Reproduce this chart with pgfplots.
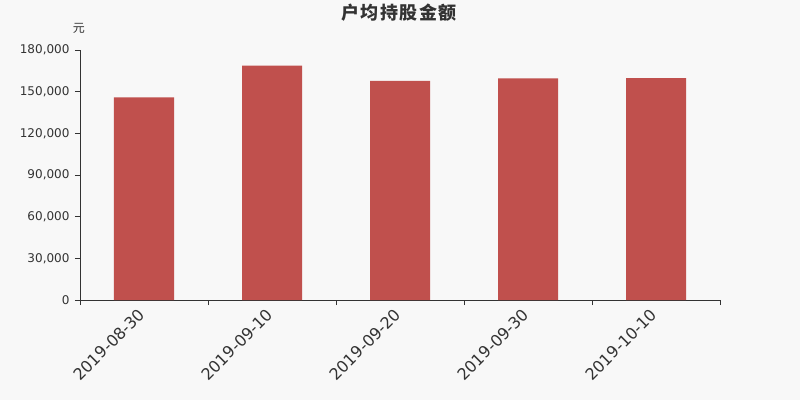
\documentclass[border=0pt]{standalone}
\usepackage{pgfplots}
\pgfplotsset{compat=1.18}
\usetikzlibrary{calc,backgrounds}
\usepackage{fontspec}
\setmainfont{DejaVu Sans}
\newfontfamily\cjk{Noto Sans CJK SC}
\newfontfamily\cjktitle[LetterSpace=8]{Noto Sans CJK SC}
\definecolor{barColor}{RGB}{192,80,77}
\definecolor{bgColor}{RGB}{248,248,248}
\definecolor{txtColor}{RGB}{51,51,51}

\begin{document}
\begin{tikzpicture}[x=1bp,y=1bp]
    \begin{axis}[
        scale only axis,
        width=640bp,
        height=250bp,
        xmin=-0.5, xmax=4.5,
        ymin=0, ymax=180000,
        axis lines*=left,
        axis line style={txtColor, line width=0.8pt, -},
        xtick={0,1,2,3,4},
        xticklabels={2019-08-30,2019-09-10,2019-09-20,2019-09-30,2019-10-10},
        minor xtick={-0.5,0.5,1.5,2.5,3.5,4.5},
        ytick={0,30000,60000,90000,120000,150000,180000},
        scaled y ticks=false,
        /pgf/number format/fixed,
        /pgf/number format/1000 sep={,},
        /pgf/number format/assume math mode=true,
        tick align=outside,
        major tick length=5bp,
        minor tick length=5bp,
        x tick style={draw=none},
        minor x tick style={draw=txtColor, line width=0.8pt},
        y tick style={draw=txtColor, line width=0.8pt},
        xticklabel style={font=\fontsize{16bp}{18bp}\selectfont, text=txtColor,
            rotate=45, anchor=north east, inner sep=0pt, xshift=-6bp, yshift=3bp},
        yticklabel style={font=\fontsize{12bp}{14bp}\selectfont, text=txtColor, xshift=-2bp},
        ybar,
        bar width=60bp,
        clip=false,
    ]
        \addplot[fill=barColor, draw=none] coordinates {
            (0, 145900) (1, 168700) (2, 157700) (3, 159600) (4, 159800)
        };
        \coordinate (O) at (rel axis cs:0,0);
    \end{axis}

    % canvas 800 x 400 px, axis box at (80,100)-(720,350) from bottom left
    \begin{pgfonlayer}{background}
        \fill[bgColor] ($(O)+(-80,-100)$) rectangle ($(O)+(720,300)$);
    \end{pgfonlayer}
    \node[text=txtColor, font=\cjk\fontsize{12bp}{14bp}\selectfont] at ($(O)+(-1,272)$) {元};
    \node[text=txtColor, font=\cjktitle\bfseries\fontsize{18bp}{20bp}\selectfont] at ($(O)+(319,287)$) {户均持股金额};
\end{tikzpicture}
\end{document}
